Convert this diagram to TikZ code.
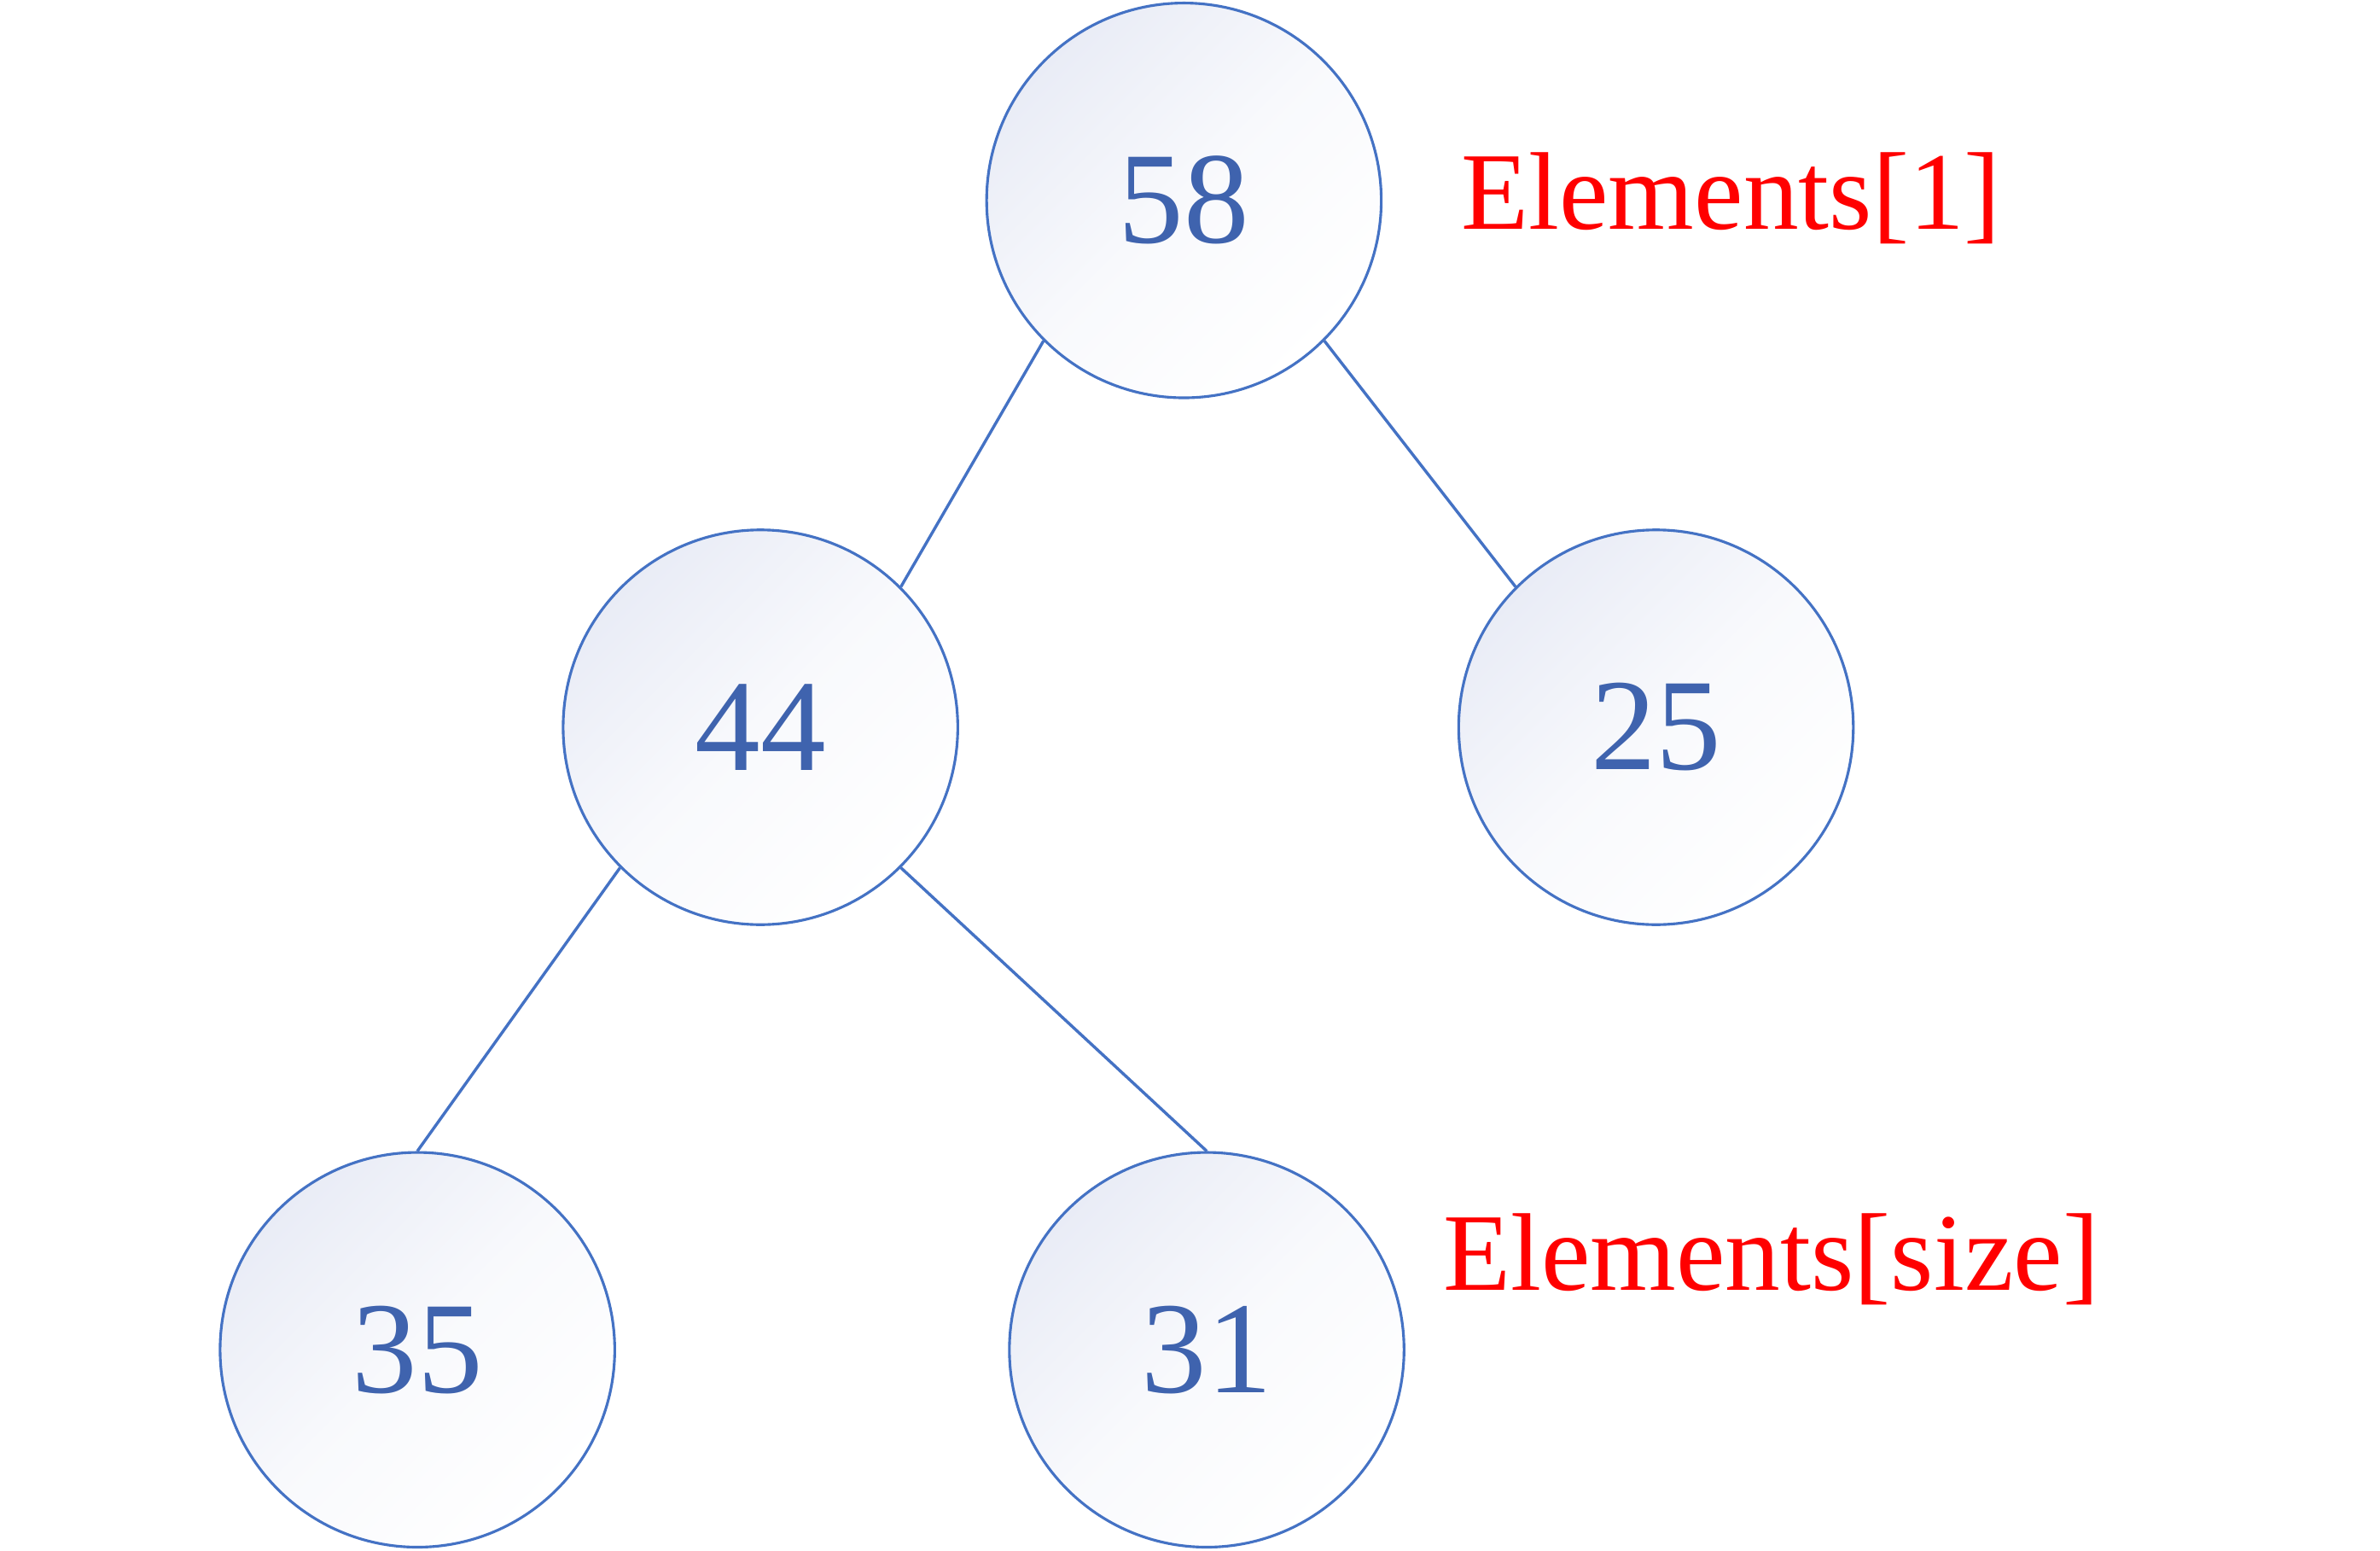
\documentclass[tikz,border=0pt]{standalone}
\usepackage{fontspec}
\setmainfont{Liberation Serif}
\definecolor{nutvien}{HTML}{4472C4}
\definecolor{chuso}{HTML}{3F63AE}
\definecolor{nennut}{HTML}{E9ECF6}
\begin{document}
\begin{tikzpicture}[scale=1.0,
    nut/.style={circle, draw=nutvien, line width=0.5pt, minimum size=2.6cm,
        top color=nennut, bottom color=white, middle color=nennut!30!white, shading angle=45,
        text=chuso, font=\fontsize{24.5}{24.5}\selectfont, inner sep=0pt},
    canh/.style={draw=nutvien, line width=0.55pt},
    nhan/.style={text=red, font=\fontsize{20.7}{20.7}\selectfont, anchor=base west, inner sep=0pt}]
    % Khung hình
    \useasboundingbox (0, 0) rectangle (15.68, 10.21);

    % 1. Các nút của cây
    \node[nut] (n58) at (7.80, 8.89) {58};
    \node[nut] (n44) at (5.01, 5.42) {44};
    \node[nut] (n25) at (10.91, 5.42) {25};
    \node[nut] (n35) at (2.75, 1.32) {35};
    \node[nut] (n31) at (7.95, 1.32) {31};

    % 2. Các cạnh nối
    \draw[canh] (n58.south west) -- (n44.north east);
    \draw[canh] (n58.south east) -- (n25.north west);
    \draw[canh] (n44.south west) -- (n35.north);
    \draw[canh] (n44.south east) -- (n31.north);

    % 3. Nhãn chỉ số
    \node[nhan] (dau) at (9.62, 8.70) {Elements[1]};
    \node[nhan] (cuoi) at (9.50, 1.71) {Elements[size]};
\end{tikzpicture}
\end{document}
